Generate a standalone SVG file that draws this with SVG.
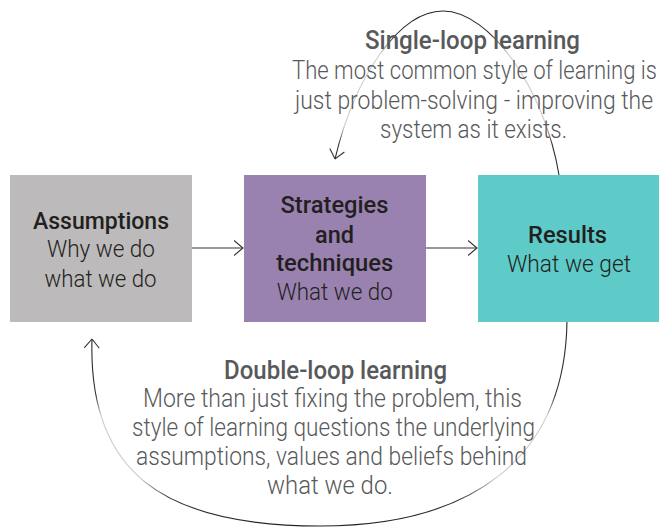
<svg xmlns="http://www.w3.org/2000/svg" width="659" height="528" viewBox="0 0 659 528">
<style>
.h{font-family:Roboto,"Liberation Sans",sans-serif;font-weight:500;text-anchor:middle}
.b{font-family:Roboto,"Liberation Sans",sans-serif;font-weight:300;text-anchor:middle}
.box .h,.box .b{fill:#231f20;font-size:24px}
.note{fill:#58595b}
.top{font-size:26px}
.bot{font-size:25px}
.arr{fill:none;stroke:#333;stroke-width:1.1}
</style>
<defs>
<marker id="chev" markerUnits="userSpaceOnUse" viewBox="0 0 10 16" refX="9.5" refY="8" markerWidth="10" markerHeight="16" orient="auto">
<path d="M0.5,0.5 L9.5,8 L0.5,15.5" fill="none" stroke="#333" stroke-width="1.1"/>
</marker>
<linearGradient id="gTop" gradientUnits="userSpaceOnUse" x1="0" y1="0" x2="0" y2="180">
<stop offset="0" stop-color="#222"/>
<stop offset="0.2" stop-color="#333"/>
<stop offset="0.3" stop-color="#ccc"/>
<stop offset="0.7" stop-color="#ccc"/>
<stop offset="0.8" stop-color="#333"/>
<stop offset="1" stop-color="#222"/>
</linearGradient>
<linearGradient id="gBot" gradientUnits="userSpaceOnUse" x1="0" y1="320" x2="0" y2="528">
<stop offset="0" stop-color="#222"/>
<stop offset="0.36" stop-color="#333"/>
<stop offset="0.46" stop-color="#ccc"/>
<stop offset="0.76" stop-color="#ccc"/>
<stop offset="0.86" stop-color="#333"/>
<stop offset="1" stop-color="#222"/>
</linearGradient>
</defs>
<rect width="659" height="528" fill="#fff"/>

<g id="connectors">
<line class="arr" x1="192" y1="248" x2="243" y2="248" marker-end="url(#chev)"/>
<line class="arr" x1="426" y1="248" x2="477" y2="248" marker-end="url(#chev)"/>
<path fill="none" stroke="url(#gTop)" stroke-width="1.1" d="M559,175 C545,90 490,11 443,11 C400,11 355,75 335,159" marker-end="url(#chev)"/>
<path fill="none" stroke="url(#gBot)" stroke-width="1.1" d="M567,321 C565,460 470,526 320,526 C160,526 88,470 92,339" marker-end="url(#chev)"/>
</g>

<g id="assumptions" class="box">
<rect x="10" y="175" width="182" height="147" fill="#bcbabb"/>
<text class="h" x="101" y="229" textLength="136" lengthAdjust="spacingAndGlyphs">Assumptions</text>
<text class="b" x="101" y="257" textLength="108" lengthAdjust="spacingAndGlyphs">Why we do</text>
<text class="b" x="100.5" y="287" textLength="112" lengthAdjust="spacingAndGlyphs">what we do</text>
</g>

<g id="strategies" class="box">
<rect x="244" y="175" width="182" height="147" fill="#9a82b0"/>
<text class="h" x="334.5" y="213" textLength="108" lengthAdjust="spacingAndGlyphs">Strategies</text>
<text class="h" x="334.5" y="243" textLength="39" lengthAdjust="spacingAndGlyphs">and</text>
<text class="h" x="334.7" y="271" textLength="117" lengthAdjust="spacingAndGlyphs">techniques</text>
<text class="b" x="334.7" y="300" textLength="116" lengthAdjust="spacingAndGlyphs">What we do</text>
</g>

<g id="results" class="box">
<rect x="478" y="175" width="181" height="147" fill="#5ecbc9"/>
<text class="h" x="567.5" y="243" textLength="79" lengthAdjust="spacingAndGlyphs">Results</text>
<text class="b" x="569" y="272" textLength="124" lengthAdjust="spacingAndGlyphs">What we get</text>
</g>

<g id="single-loop" class="note" transform="translate(474,0) scale(0.8,1)">
<text class="h top" x="-1.9" y="49" textLength="268.8" lengthAdjust="spacingAndGlyphs">Single-loop learning</text>
<text class="b top" x="0.6" y="79" textLength="456.3" lengthAdjust="spacingAndGlyphs">The most common style of learning is</text>
<text class="b top" x="0" y="109" textLength="447.5" lengthAdjust="spacingAndGlyphs">just problem-solving - improving the</text>
<text class="b top" x="-0.6" y="138" textLength="233.8" lengthAdjust="spacingAndGlyphs">system as it exists.</text>
</g>

<g id="double-loop" class="note">
<text class="h bot" x="335.5" y="379" textLength="223" lengthAdjust="spacingAndGlyphs">Double-loop learning</text>
<text class="b bot" x="332.5" y="407" textLength="379" lengthAdjust="spacingAndGlyphs">More than just fixing the problem, this</text>
<text class="b bot" x="333.5" y="436" textLength="403" lengthAdjust="spacingAndGlyphs">style of learning questions the underlying</text>
<text class="b bot" x="331.5" y="465" textLength="391" lengthAdjust="spacingAndGlyphs">assumptions, values and beliefs behind</text>
<text class="b bot" x="330" y="494" textLength="126" lengthAdjust="spacingAndGlyphs">what we do.</text>
</g>
</svg>
